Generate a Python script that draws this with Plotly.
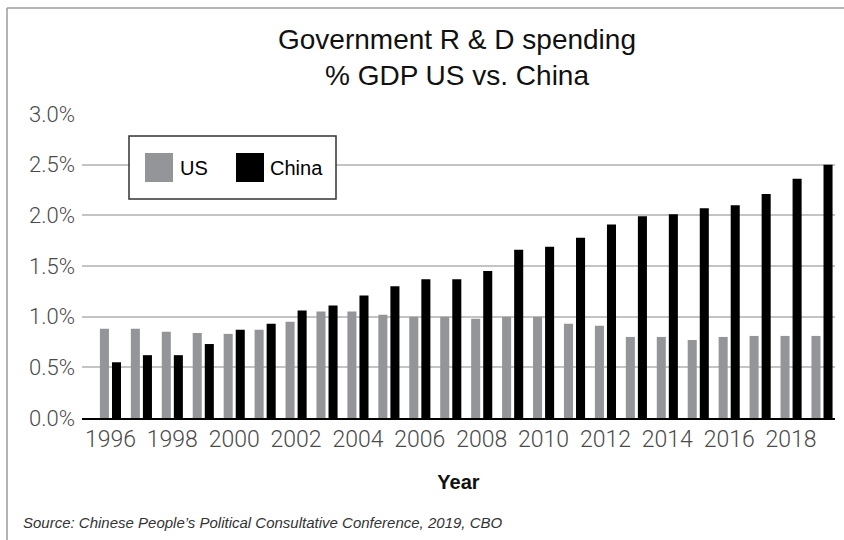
import plotly.graph_objects as go

# ---- data ----
years = [str(y) for y in range(1996, 2020)]
us_values = [0.88, 0.88, 0.85, 0.84, 0.83, 0.87, 0.95, 1.05, 1.05, 1.02, 1.00, 1.00,
             0.98, 1.00, 1.00, 0.93, 0.91, 0.80, 0.80, 0.77, 0.80, 0.81, 0.81, 0.81]
china_values = [0.55, 0.62, 0.62, 0.73, 0.87, 0.93, 1.06, 1.11, 1.21, 1.30, 1.37, 1.37,
                1.45, 1.66, 1.69, 1.78, 1.91, 1.99, 2.01, 2.07, 2.10, 2.21, 2.36, 2.50]
series_names = ["US", "China"]
y_tick_values = [0.0, 0.5, 1.0, 1.5, 2.0, 2.5, 3.0]
x_tick_labels = years[::2]
title_text = "Government R & D spending<br>% GDP US vs. China"
x_title = "Year"
source_text = "Source: Chinese People\u2019s Political Consultative Conference, 2019, CBO"

# ---- layout geometry (pixels) ----
W, H = 844, 540
L, R, T, B = 82, 9, 114, 122
PW, PH = W - L - R, H - T - B

def px(x):
    return (x - L) / PW

def py(y):
    return (H - B - y) / PH

US_COLOR = "#939598"
CN_COLOR = "#000000"
XTICK_FONT = dict(family="Roboto, Liberation Sans, Arial", size=23, color="#4a4a4a", weight=300)
YTICK_FONT = dict(family="Roboto, Liberation Sans, Arial", size=22, color="#4a4a4a", weight=300)
MAIN_FONT = "Liberation Sans, Arial, Helvetica"

fig = go.Figure()
fig.add_trace(go.Bar(x=years, y=[v / 100 for v in us_values], name=series_names[0],
                     marker=dict(color=US_COLOR, line=dict(width=0)), showlegend=False))
fig.add_trace(go.Bar(x=years, y=[v / 100 for v in china_values], name=series_names[1],
                     marker=dict(color=CN_COLOR, line=dict(width=0)), showlegend=False))

fig.update_layout(
    width=W, height=H,
    margin=dict(l=L, r=R, t=T, b=B),
    paper_bgcolor="white", plot_bgcolor="white",
    barmode="group", bargap=0.22, bargroupgap=0.25,
    title=dict(text=title_text, x=px(457), xref="paper", xanchor="center",
               y=1 - 49 / H, yref="container", yanchor="top",
               font=dict(family=MAIN_FONT, size=28, color="#111111")),
    xaxis=dict(type="category", range=[-0.92, 23.42],
               tickmode="array", tickvals=x_tick_labels, ticktext=x_tick_labels,
               tickfont=XTICK_FONT, showgrid=False, ticks="", ticklabelstandoff=-1,
               showline=True, linecolor="#000000", linewidth=2,
               title=dict(text=x_title, standoff=23,
                          font=dict(family=MAIN_FONT, size=20, color="#111111", weight="bold"))),
    yaxis=dict(range=[0, 0.03], tickvals=[v / 100 for v in y_tick_values],
               tickformat=".1%", tickfont=YTICK_FONT, ticks="", ticklabelstandoff=6,
               showgrid=True, gridcolor="#c4c4c4", gridwidth=2,
               zeroline=False, showline=False),
)

shapes = []
annotations = []
# outer frame (left and top lines)
shapes.append(dict(type="line", xref="paper", yref="paper", x0=px(7), x1=px(7), y0=py(8), y1=py(H + 5),
                   line=dict(color="#9a9a9a", width=1.5), layer="above"))
shapes.append(dict(type="line", xref="paper", yref="paper", x0=px(7), x1=px(W + 5), y0=py(8), y1=py(8),
                   line=dict(color="#9a9a9a", width=1.5), layer="above"))
# legend box
shapes.append(dict(type="rect", xref="paper", yref="paper", x0=px(129), x1=px(336), y0=py(199), y1=py(136),
                   fillcolor="white", line=dict(color="#333333", width=1.5), layer="above"))
legend_items = [(series_names[0], US_COLOR, 145, 178), (series_names[1], CN_COLOR, 236, 268)]
for name, color, sx, tx in legend_items:
    shapes.append(dict(type="rect", xref="paper", yref="paper", x0=px(sx), x1=px(sx + 28),
                       y0=py(182), y1=py(153), fillcolor=color, line=dict(width=0), layer="above"))
    annotations.append(dict(text=name, xref="paper", yref="paper", x=px(tx), y=py(167.5),
                            xanchor="left", yanchor="middle", showarrow=False,
                            font=dict(family=MAIN_FONT, size=20, color="#000000")))
# source note
annotations.append(dict(text="<i>" + source_text + "</i>", xref="paper", yref="paper",
                        x=px(21), y=py(522), xanchor="left", yanchor="middle", showarrow=False,
                        font=dict(family=MAIN_FONT, size=15, color="#333333")))
fig.update_layout(shapes=shapes, annotations=annotations)

fig.write_html("out.html")
